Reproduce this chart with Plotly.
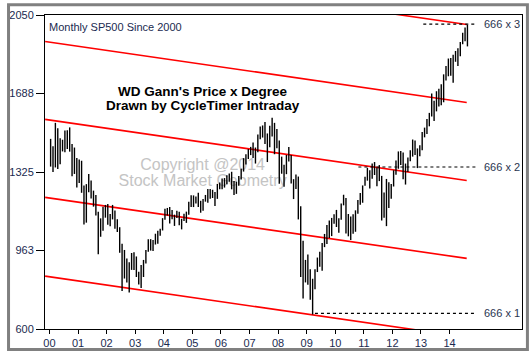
import plotly.graph_objects as go

# ---------------- data ----------------
start_year = 2000
highs = [
    1478, 1444, 1552, 1527, 1481, 1474, 1517, 1518, 1531, 1454, 1438, 1390,
    1383, 1377, 1263, 1269, 1316, 1286, 1239, 1219, 1141, 1111, 1164, 1173,
    1177, 1131, 1173, 1147, 1107, 1070, 994, 965, 925, 908, 951, 954,
    935, 864, 895, 919, 965, 1015, 1015, 1011, 1040, 1054, 1063, 1112,
    1155, 1159, 1163, 1150, 1128, 1146, 1141, 1109, 1132, 1142, 1188, 1218,
    1217, 1212, 1229, 1192, 1200, 1219, 1246, 1246, 1243, 1233, 1270, 1276,
    1295, 1297, 1310, 1318, 1326, 1284, 1280, 1307, 1340, 1389, 1407, 1431,
    1441, 1461, 1438, 1498, 1535, 1540, 1556, 1503, 1539, 1576, 1552, 1523,
    1471, 1396, 1359, 1404, 1440, 1404, 1292, 1313, 1304, 1167, 1007, 919,
    944, 876, 832, 876, 930, 957, 997, 1039, 1080, 1101, 1113, 1130,
    1150, 1112, 1180, 1220, 1205, 1131, 1120, 1130, 1148, 1196, 1228, 1263,
    1303, 1344, 1333, 1364, 1371, 1346, 1357, 1307, 1230, 1293, 1278, 1270,
    1333, 1378, 1420, 1422, 1415, 1364, 1392, 1426, 1475, 1470, 1434, 1448,
    1510, 1530, 1570, 1598, 1688, 1654, 1698, 1709, 1730, 1776, 1814, 1849,
    1851, 1867, 1884, 1897, 1925, 1968, 1992, 2005,
]
lows = [
    1350, 1325, 1346, 1339, 1361, 1420, 1416, 1431, 1419, 1305, 1316, 1254,
    1274, 1229, 1082, 1091, 1232, 1203, 1165, 1124, 945, 1026, 1054, 1114,
    1081, 1075, 1106, 1063, 1048, 952, 776, 833, 815, 768, 873, 872,
    840, 806, 789, 840, 902, 957, 962, 960, 990, 994, 1031, 1055,
    1105, 1124, 1087, 1107, 1076, 1113, 1079, 1060, 1099, 1090, 1128, 1163,
    1163, 1180, 1163, 1137, 1146, 1188, 1183, 1201, 1205, 1168, 1201, 1245,
    1245, 1253, 1268, 1280, 1245, 1219, 1224, 1262, 1290, 1327, 1360, 1385,
    1403, 1390, 1364, 1416, 1476, 1484, 1454, 1371, 1439, 1489, 1407, 1435,
    1271, 1317, 1257, 1315, 1373, 1272, 1200, 1247, 1106, 840, 741, 815,
    804, 735, 667, 783, 863, 888, 869, 978, 992, 1020, 1029, 1086,
    1071, 1045, 1105, 1171, 1041, 1028, 1011, 1040, 1049, 1132, 1174, 1183,
    1262, 1285, 1249, 1294, 1311, 1259, 1283, 1101, 1114, 1075, 1159, 1202,
    1258, 1312, 1340, 1357, 1291, 1267, 1325, 1375, 1396, 1403, 1343, 1398,
    1426, 1485, 1501, 1536, 1581, 1560, 1605, 1627, 1633, 1647, 1747, 1767,
    1770, 1737, 1834, 1814, 1859, 1915, 1929, 1905,
]

year_ticks = list(range(2000, 2015))
year_labels = ["%02d" % (y % 100) for y in year_ticks]
price_ticks = [600, 963, 1325, 1688, 2050]
price_labels = ["600", "963", "1325", "1688", "2050"]

# Gann price x degree channel lines (value at left x, value at right x)
channel_x = [1999.85, 2014.6]
channel_left = [2288, 1928, 1568, 1208, 844]
channel_right = [2006, 1646, 1286, 926, 562]

# 666 multiples (dotted levels, as drawn)
level_names = ["666 x 1", "666 x 2", "666 x 3"]
level_values = [672, 1348, 2008]
level_start = [2009.29, 2010.81, 2013.08]
level_end = 2014.95
label_x = 2015.12

watermark = ["Copyright @2014", "Stock Market Geometry"]
watermark_x = 2005.36
watermark_y = [1354, 1277]

# ---------------- figure ----------------
TXT = "#1a2a50"
FONT = "Liberation Sans, Arial, sans-serif"

fig = go.Figure()

# watermark (below bars)
fig.add_trace(go.Scatter(
    x=[watermark_x] * len(watermark), y=watermark_y, text=watermark,
    mode="text", textfont=dict(family=FONT, size=16, color="#c4c4c4"),
    hoverinfo="skip", showlegend=False, cliponaxis=False))

# channel lines
for lv, rv in zip(channel_left, channel_right):
    fig.add_trace(go.Scatter(
        x=channel_x, y=[lv, rv], mode="lines",
        line=dict(color="#ff0000", width=1.6), hoverinfo="skip", showlegend=False))

# dotted 666 levels
for s, v in zip(level_start, level_values):
    fig.add_trace(go.Scatter(
        x=[s, level_end], y=[v, v], mode="lines",
        line=dict(color="black", width=1.2, dash="dot"),
        hoverinfo="skip", showlegend=False))

# monthly high-low bars
bx, by = [], []
for i, (h, l) in enumerate(zip(highs, lows)):
    x = start_year + (i + 0.5) / 12.0
    bx += [x, x, None]
    by += [l, h, None]
fig.add_trace(go.Scatter(
    x=bx, y=by, mode="lines", line=dict(color="black", width=1.4),
    hoverinfo="skip", showlegend=False))

annotations = []
for name, v in zip(level_names, level_values):
    annotations.append(dict(
        x=label_x, y=v, xref="x", yref="y", text=name, showarrow=False,
        xanchor="left", yanchor="middle",
        font=dict(family=FONT, size=11, color="#2a3550")))

annotations.append(dict(
    x=0.004, y=0.963, xref="paper", yref="paper", text="Monthly SP500 Since 2000",
    showarrow=False, xanchor="left", yanchor="middle",
    font=dict(family=FONT, size=11, color=TXT)))
annotations.append(dict(
    x=2005.36, y=1699, xref="x", yref="y", text="<b>WD Gann's Price x Degree</b>",
    showarrow=False, xanchor="center", yanchor="middle",
    font=dict(family=FONT, size=13.5, color="black")))
annotations.append(dict(
    x=2005.36, y=1631, xref="x", yref="y", text="<b>Drawn by CycleTimer Intraday</b>",
    showarrow=False, xanchor="center", yanchor="middle",
    font=dict(family=FONT, size=13.5, color="black")))

# outer frame
W, L, R, T, B = 532, 39, 9, 12, 25
pw, ph = W - L - R, 358 - T - B
def px(xp):
    return (xp - L) / pw
def py(yp):
    return (358 - B - yp) / ph

shapes = [dict(type="rect", xref="paper", yref="paper",
               x0=px(2), x1=px(528.5), y0=py(354), y1=py(1.4),
               line=dict(color="#808080", width=3), fillcolor="rgba(0,0,0,0)")]

fig.update_layout(
    width=532, height=358,
    margin=dict(l=L, r=R, t=T, b=B),
    paper_bgcolor="white", plot_bgcolor="white",
    showlegend=False,
    annotations=annotations,
    shapes=shapes,
    xaxis=dict(range=[1999.845, 2016.534], tickvals=year_ticks, ticktext=year_labels,
               showline=True, mirror=True, linecolor="black", linewidth=1,
               ticks="outside", ticklen=4, tickcolor="black", showgrid=False,
               zeroline=False, tickfont=dict(family=FONT, size=11, color=TXT)),
    yaxis=dict(range=[600, 2050], tickvals=price_ticks, ticktext=price_labels,
               showline=True, mirror=True, linecolor="black", linewidth=1,
               ticks="outside", ticklen=8, tickcolor="black", showgrid=False,
               zeroline=False, tickfont=dict(family=FONT, size=11, color=TXT)),
)

fig.write_html("out.html", config={"displayModeBar": False},
               post_script="document.body.style.margin='0';document.body.style.overflow='hidden';")
